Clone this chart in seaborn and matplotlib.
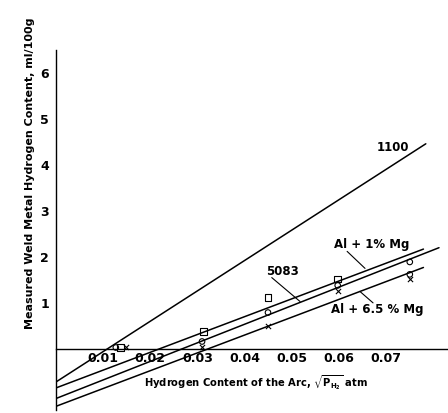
import matplotlib
matplotlib.use("Agg")
import matplotlib.pyplot as plt
import seaborn as sns
import numpy as np

# ---- data ----
series_names = ["1100", "Al + 1% Mg", "5083", "Al + 6.5 % Mg"]
line_x0 = [0.0, 0.0, 0.0, 0.0]
line_y0 = [-0.72, -0.85, -1.08, -1.25]
line_x1 = [0.0785, 0.078, 0.0813, 0.078]
line_y1 = [4.46, 2.17, 2.20, 1.77]

sq_x = [0.0137, 0.0313, 0.045, 0.0598]
sq_y = [0.03, 0.38, 1.12, 1.52]
ci_x = [0.0127, 0.031, 0.045, 0.0598, 0.0751, 0.0751]
ci_y = [0.03, 0.16, 0.79, 1.38, 1.89, 1.62]
xm_x = [0.0148, 0.031, 0.045, 0.0598, 0.0751]
xm_y = [0.03, 0.03, 0.49, 1.25, 1.52]

xticks = [0.01, 0.02, 0.03, 0.04, 0.05, 0.06, 0.07]
xtick_labels = ["0.01", "0.02", "0.03", "0.04", "0.05", "0.06", "0.07"]
yticks = [1, 2, 3, 4, 5, 6]
ytick_labels = ["1", "2", "3", "4", "5", "6"]

# label positions (text x, y) and pointer lines
label_pos = {"1100": (0.0715, 4.38), "Al + 1% Mg": (0.0671, 2.27),
             "5083": (0.0480, 1.68), "Al + 6.5 % Mg": (0.0681, 0.85)}
pointers = {"Al + 1% Mg": ((0.0618, 2.12), (0.0656, 1.75)),
            "5083": ((0.0458, 1.55), (0.0518, 1.03)),
            "Al + 6.5 % Mg": ((0.0645, 1.25), (0.0673, 1.00))}

sns.set_style("white")
plt.rcParams["font.family"] = ["DejaVu Sans"]
plt.rcParams["mathtext.fontset"] = "dejavusans"
plt.rcParams["text.color"] = "black"
plt.rcParams["xtick.color"] = "black"
plt.rcParams["ytick.color"] = "black"
plt.rcParams["axes.labelcolor"] = "black"

W, H = 448, 413
fig = plt.figure(figsize=(W / 100, H / 100), dpi=100)
ax = fig.add_axes([56 / W, 3 / H, 391 / W, 360 / H])

for i, name in enumerate(series_names):
    sns.lineplot(x=[line_x0[i], line_x1[i]], y=[line_y0[i], line_y1[i]],
                 color="black", linewidth=1.1, ax=ax)

sns.scatterplot(x=sq_x, y=sq_y, marker="s", s=22, facecolor="none",
                edgecolor="black", linewidth=0.8, ax=ax, zorder=3)
sns.scatterplot(x=ci_x, y=ci_y, marker="o", s=16, facecolor="none",
                edgecolor="black", linewidth=0.8, ax=ax, zorder=3)
sns.scatterplot(x=xm_x, y=xm_y, marker="x", s=14, color="black",
                linewidth=0.8, ax=ax, zorder=3)

for name, (tx, ty) in label_pos.items():
    ax.text(tx, ty, name, ha="center", va="center", fontsize=8.5,
            fontweight="bold", color="black")
for name, ((ax0, ay0), (ax1, ay1)) in pointers.items():
    ax.plot([ax0, ax1], [ay0, ay1], color="black", linewidth=0.8)

ax.set_xlim(0, 0.083)
ax.set_ylim(-1.33, 6.5)
ax.spines["top"].set_visible(False)
ax.spines["right"].set_visible(False)
ax.spines["bottom"].set_position(("data", 0))
for sp in ("left", "bottom"):
    ax.spines[sp].set_linewidth(1.0)
    ax.spines[sp].set_color("black")

ax.set_xticks(xticks)
ax.set_xticklabels(xtick_labels)
ax.set_yticks(yticks)
ax.set_yticklabels(ytick_labels)
ax.tick_params(axis="x", direction="in", length=4, width=0.8, pad=2,
               labelsize=9, colors="black")
ax.tick_params(axis="y", direction="in", length=4, width=0.8, pad=5,
               labelsize=9, colors="black")
for lab in ax.get_xticklabels() + ax.get_yticklabels():
    lab.set_fontweight("bold")

fig.text(30 / W, 1 - 173 / H, "Measured Weld Metal Hydrogen Content, ml/100g",
         rotation=90, ha="center", va="center", fontsize=8, fontweight="bold",
         color="black")
fig.text(256 / W, 1 - 383 / H,
         r"Hydrogen Content of the Arc, $\mathbf{\sqrt{P_{H_2}}}$ atm",
         ha="center", va="center", fontsize=7.2, fontweight="bold",
         color="black")

fig.savefig("out.png", dpi=100)
